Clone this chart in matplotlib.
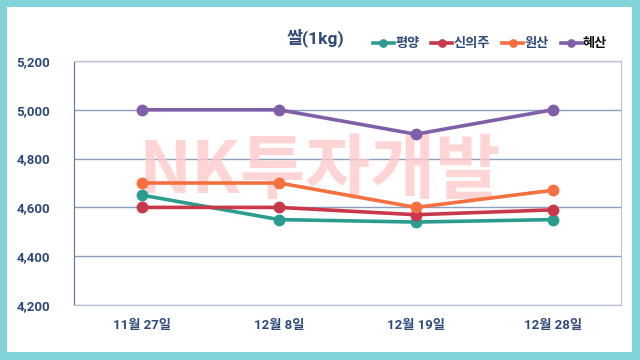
import matplotlib.pyplot as plt
from matplotlib.patches import Rectangle

plt.rcParams['font.family'] = ['Roboto', 'Noto Sans CJK KR', 'DejaVu Sans']

dates = ['11월 27일', '12월 8일', '12월 19일', '12월 28일']
pyongyang = [4650, 4550, 4540, 4550]
sinuiju = [4600, 4600, 4570, 4590]
wonsan = [4700, 4700, 4600, 4670]
hyesan = [5000, 5000, 4900, 5000]
names = ['평양', '신의주', '원산', '혜산']
colors = ['#2A9D8F', '#C8374A', '#F5703F', '#7E5FA8']

fig = plt.figure(figsize=(6.4, 3.6), dpi=100)
fig.patch.set_facecolor('#80D4D7')
# white panel
fig.patches.append(Rectangle((7/640, 8/360), 625/640, 345/360, transform=fig.transFigure,
                             facecolor='white', edgecolor='none', zorder=-5))

ax = fig.add_axes([74/640, 55/360, 547/640, 244/360])
ax.set_zorder(2)
ax.set_facecolor('none')
x = range(len(dates))
for vals, name, c in zip([pyongyang, sinuiju, wonsan, hyesan], names, colors):
    ax.plot(x, vals, color=c, lw=2.6, marker='o', ms=7.5, label=name, zorder=3)

ax.set_xlim(-0.5, 3.5)
ax.set_ylim(4200, 5200)
ax.set_yticks(range(4200, 5201, 200))
ax.set_yticklabels([f'{v:,}' for v in range(4200, 5201, 200)])
ax.set_xticks(list(x))
ax.set_xticklabels(dates)
ax.grid(axis='y', color='#8C9FBD', lw=1)
ax.set_axisbelow(True)
for s in ['top', 'right', 'bottom']:
    ax.spines[s].set_color('#B7C2D2')
ax.spines['left'].set_color('#5C7599')
ax.tick_params(length=0, colors='#2E4A7A', labelsize=9.5, pad=10)
for lab in ax.get_xticklabels() + ax.get_yticklabels():
    lab.set_fontweight('bold')
ax.tick_params(axis='y', pad=17)

# watermark
ax.text(1.3, 4745, 'NK투자개발', ha='center', va='center', fontsize=51, fontweight='bold',
        family=['Noto Sans CJK KR'], color='#FFCACA', alpha=0.8, zorder=1.5)

fig.text(315/640, 1 - 38/360, '쌀(1kg)', ha='center', va='center', fontsize=12.5,
         fontweight='bold', color='#2E4A7A')
leg = fig.legend(loc='center', bbox_to_anchor=(490/640, 1 - 44/360), ncol=4, frameon=False,
                 handlelength=1.6, handletextpad=0.1, columnspacing=0.9,
                 markerscale=0.7, prop={'weight': 'bold', 'size': 9.5})
for t, tc in zip(leg.get_texts(), ['#2E4A7A', '#2E4A7A', '#2E4A7A', '#111111']):
    t.set_color(tc)

fig.savefig('out.png', dpi=100, facecolor=fig.get_facecolor())
